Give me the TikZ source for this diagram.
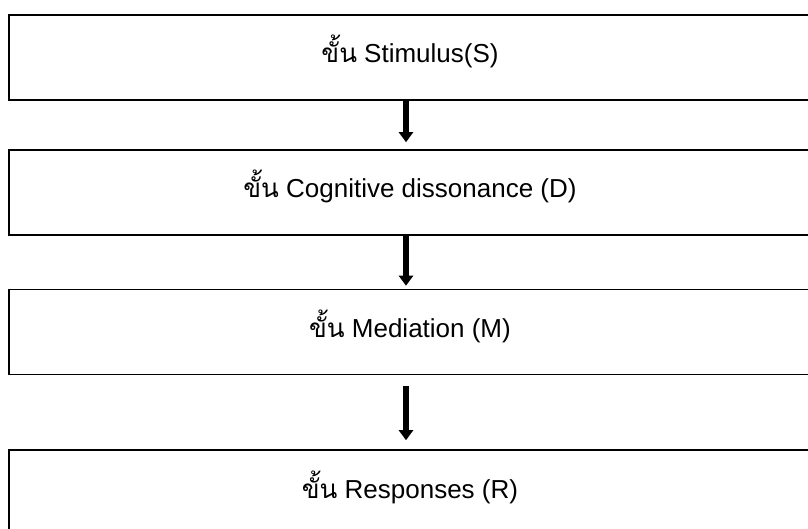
\documentclass[tikz,border=0pt]{standalone}
\usepackage{fontspec}
\setmainfont{Liberation Sans}
\newfontfamily\thaifont[Script=Thai]{Loma}
\usetikzlibrary{arrows.meta}

\tikzset{every picture/.style={line width=0.75pt}}
\tikzset{stagebox/.style={draw, line width=1.6pt, rectangle, minimum width=802pt, minimum height=85pt, inner sep=0pt, text height=25pt, text depth=14pt, font=\fontsize{26}{30}\selectfont},
         stagearrow/.style={line width=5.5pt, -{Triangle[width=14pt,length=10pt]}}}

\begin{document}
\begin{tikzpicture}[x=1pt,y=1pt,yscale=-1,xscale=1]
\useasboundingbox (0,0) rectangle (808,529);

% Stage boxes
\node [stagebox] (stim) at (410,57.5) {{\thaifont ขั้น} Stimulus(S)};
\node [stagebox] (diss) at (410,192.5) {{\thaifont ขั้น} Cognitive dissonance (D)};
\node [stagebox] (medi) at (410,332) {{\thaifont ขั้น} Mediation (M)};
\node [stagebox] (resp) at (410,492.5) {{\thaifont ขั้น} Responses (R)};

%Straight Lines
\draw [stagearrow, shorten >=7pt] ([xshift=-4pt]stim.south) -- ([xshift=-4pt]diss.north);
\draw [stagearrow, shorten >=3pt] ([xshift=-4pt]diss.south) -- ([xshift=-4pt]medi.north);
\draw [stagearrow, shorten <=11pt, shorten >=9pt] ([xshift=-4pt]medi.south) -- ([xshift=-4pt]resp.north);

\end{tikzpicture}
\end{document}
